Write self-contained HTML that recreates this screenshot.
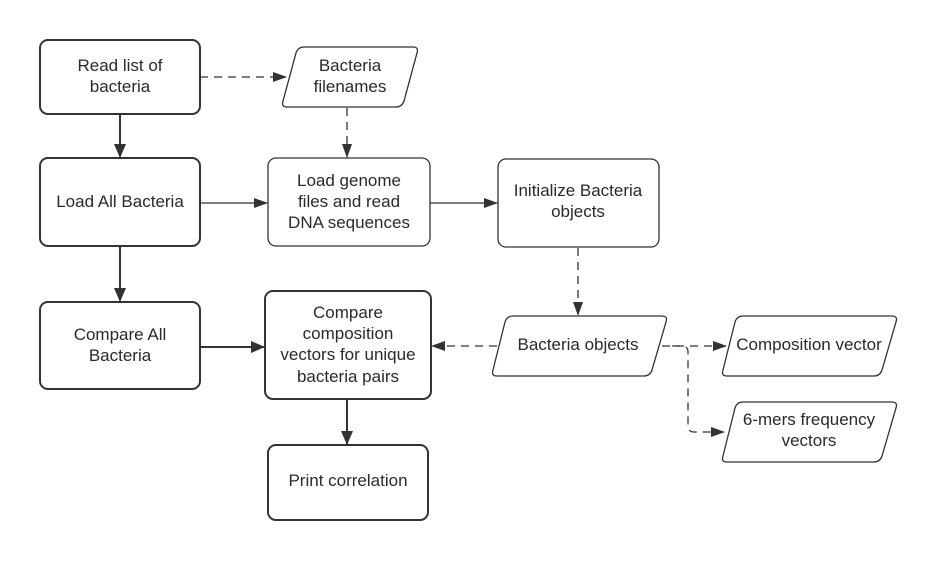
<!DOCTYPE html>
<html><head><style>body{margin:0;background:#fff}svg{display:block}text{font-family:"Liberation Sans",sans-serif;font-size:17px;fill:#2a2a2a;text-anchor:middle}</style></head>
<body>
<svg width="940" height="561" viewBox="0 0 940 561">
<defs><marker id="a" markerWidth="14" markerHeight="12" refX="13" refY="6" orient="auto" markerUnits="userSpaceOnUse"><path d="M0,1 L14,6 L0,11 Z" fill="#333"/></marker>
<marker id="b" markerWidth="14" markerHeight="14" refX="13" refY="7" orient="auto" markerUnits="userSpaceOnUse"><path d="M0,1 L14,7 L0,13 Z" fill="#333"/></marker></defs>
<g fill="#fff" stroke="#333">
<rect x="40" y="40" width="160" height="74" rx="8" stroke-width="2"/>
<rect x="40" y="158" width="160" height="88" rx="8" stroke-width="2"/>
<rect x="40" y="302" width="160" height="87" rx="8" stroke-width="2"/>
<rect x="268" y="158" width="162" height="88" rx="8" stroke-width="1.3"/>
<rect x="498" y="159" width="161" height="88" rx="8" stroke-width="1.3"/>
<rect x="265" y="291" width="166" height="108" rx="8" stroke-width="2"/>
<rect x="268" y="445" width="160" height="75" rx="8" stroke-width="2"/>
<path d="M304,47 L413,47 Q419,47 417,53 L404,101 Q402,107 396,107 L287,107 Q281,107 283,101 L296,53 Q298,47 304,47Z" stroke-width="1.3"/>
<path d="M513,316 L662,316 Q668,316 666,322 L652,370 Q650,376 644,376 L497,376 Q491,376 493,370 L505,322 Q507,316 513,316Z" stroke-width="1.3"/>
<path d="M743,316 L892,316 Q898,316 896,322 L882,370 Q880,376 874,376 L727,376 Q721,376 723,370 L735,322 Q737,316 743,316Z" stroke-width="1.3"/>
<path d="M743,402 L892,402 Q898,402 896,408 L882,456 Q880,462 874,462 L727,462 Q721,462 723,456 L735,408 Q737,402 743,402Z" stroke-width="1.3"/>
</g>
<g stroke="#333" fill="none" stroke-width="2">
<line x1="120" y1="114" x2="120" y2="157" marker-end="url(#b)"/>
<line x1="120" y1="246" x2="120" y2="301" marker-end="url(#b)"/>
<line x1="200" y1="347" x2="264" y2="347" marker-end="url(#b)"/>
<line x1="347" y1="399" x2="347" y2="444" marker-end="url(#b)"/>
</g>
<g stroke="#333" fill="none" stroke-width="1.3">
<line x1="200" y1="203" x2="267" y2="203" marker-end="url(#a)"/>
<line x1="430" y1="203" x2="497" y2="203" marker-end="url(#a)"/>
<g stroke-dasharray="8,6">
<line x1="200" y1="77" x2="286" y2="77" marker-end="url(#a)"/>
<line x1="347" y1="108" x2="347" y2="157" marker-end="url(#a)"/>
<line x1="578" y1="248" x2="578" y2="315" marker-end="url(#a)"/>
<line x1="497" y1="346" x2="432" y2="346" marker-end="url(#a)"/>
<line x1="662" y1="346" x2="726" y2="346" marker-end="url(#a)"/>
<path d="M672,346 L682,346 Q688,346 688,352 L688,426 Q688,432 694,432 L724,432" marker-end="url(#a)"/>
</g></g>
<text x="120" y="71">Read list of</text><text x="120" y="92">bacteria</text>
<text x="120" y="207">Load All Bacteria</text>
<text x="120" y="340">Compare All</text><text x="120" y="361">Bacteria</text>
<text x="350" y="71">Bacteria</text><text x="350" y="92">filenames</text>
<text x="349" y="186">Load genome</text><text x="349" y="207">files and read</text><text x="349" y="228">DNA sequences</text>
<text x="578" y="196">Initialize Bacteria</text><text x="578" y="217">objects</text>
<text x="348" y="318">Compare</text><text x="348" y="339">composition</text><text x="348" y="360">vectors for unique</text><text x="348" y="382">bacteria pairs</text>
<text x="348" y="486">Print correlation</text>
<text x="578" y="350">Bacteria objects</text>
<text x="809" y="350">Composition vector</text>
<text x="809" y="425">6-mers frequency</text><text x="809" y="446">vectors</text>
</svg>
</body></html>
